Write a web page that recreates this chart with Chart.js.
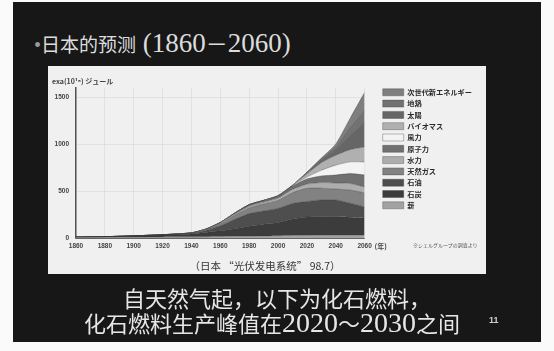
<!DOCTYPE html>
<html>
<head>
<meta charset="utf-8">
<script src="https://cdn.jsdelivr.net/npm/chart.js@4/dist/chart.umd.min.js"></script>
<style>
  html, body { margin: 0; padding: 0; background: #fafafa; width: 554px; height: 351px; overflow: hidden; }
  .slide { position: absolute; left: 13px; top: 2px; width: 528px; height: 340px; background: #171717; }
  .title { position: absolute; left: 34px; top: 26px; color: #dcdcdc; font-family: "Liberation Serif", serif; font-size: 27px; white-space: nowrap; }
  .title .dot { color: #9a9a9a; font-size: 20px; }
  .cjk { font-family: "Noto Sans CJK SC", sans-serif; }
  .panel { position: absolute; left: 48px; top: 66px; width: 438px; height: 208px; background: #f0f0f0; }
  #wrap { position: absolute; left: 48px; top: 66px; width: 438px; height: 192px; }
  .caption { position: absolute; left: 0; width: 530px; top: 258px; text-align: center; font-family: "Noto Sans CJK SC", sans-serif; font-size: 10.5px; color: #333; }
  .note { position: absolute; left: 413px; top: 241px; font-family: "Noto Sans CJK JP", sans-serif; font-size: 5px; color: #555; white-space: nowrap; }
  .line { position: absolute; left: 0; width: 554px; text-align: center; color: #e6e6e6; font-family: "Noto Sans CJK SC", sans-serif; font-size: 22px; white-space: nowrap; }
  .line .num { font-family: "Liberation Serif", serif; font-size: 28px; }
  .page { position: absolute; left: 489px; top: 315px; color: #cfcfcf; font-family: "Liberation Sans", sans-serif; font-weight: bold; font-size: 9px; }
</style>
</head>
<body>
<div class="slide"></div>
<div class="title"><span class="dot">•</span><span class="cjk" style="font-size:19px">日本的预测</span> (1860<span class="cjk" style="font-size:22px">－</span>2060)</div>
<div class="panel"></div>
<div id="wrap"><canvas id="energyChart"></canvas></div>
<div class="note">※シェルグループの調査より</div>
<div class="caption">（日本 “光伏发电系统” 98.7）</div>
<div class="line" style="top:281px">自天然气起，以下为化石燃料，</div>
<div class="line" style="top:306px;left:-5px">化石燃料生产峰值在<span class="num">2020</span>～<span class="num">2030</span>之间</div>
<div class="page">11</div>

<script>
// 年 (x)
var years = [1860, 1880, 1900, 1920, 1940, 1950, 1960, 1970, 1980, 1990, 2000, 2010, 2020, 2030, 2040, 2050, 2060];

// exa joule, bottom of the stack first
var wood    = [8, 9, 10, 11, 12, 14, 16, 18, 20, 22, 25, 27, 28, 30, 30, 30, 32];
var coal    = [2, 5, 12, 20, 30, 45, 60, 80, 105, 125, 140, 175, 195, 200, 195, 190, 181];
var oil     = [0, 0, 1, 3, 8, 22, 55, 100, 135, 140, 150, 165, 165, 175, 180, 150, 117];
var gas     = [0, 0, 0, 1, 3, 8, 22, 45, 60, 75, 85, 115, 140, 125, 115, 140, 149];
var hydro   = [0, 0, 0, 0, 2, 6, 10, 14, 18, 20, 25, 35, 45, 60, 65, 70, 64];
var nuclear = [0, 0, 0, 0, 0, 0, 2, 8, 17, 18, 22, 35, 55, 70, 85, 105, 127];
var wind    = [0, 0, 0, 0, 0, 0, 0, 0, 0, 0, 1, 3, 20, 60, 105, 125, 139];
var biomass = [0, 0, 0, 0, 0, 0, 0, 0, 0, 0, 2, 4, 35, 80, 105, 130, 159];
var solar   = [0, 0, 0, 0, 0, 0, 0, 0, 0, 0, 0, 1, 10, 30, 60, 150, 260];
var geo     = [0, 0, 0, 0, 0, 0, 0, 0, 0, 0, 0, 0, 4, 12, 30, 85, 130];
var nextGen = [0, 0, 0, 0, 0, 0, 0, 0, 0, 0, 0, 0, 3, 8, 30, 100, 192];

var seriesNames = ['薪', '石炭', '石油', '天然ガス', '水力', '原子力', '風力', 'バイオマス', '太陽', '地熱', '次世代新エネルギー'];
var seriesData = [wood, coal, oil, gas, hydro, nuclear, wind, biomass, solar, geo, nextGen];
var seriesColors = ['#a2a2a2', '#3c3c3c', '#4e4e4e', '#828282', '#adadad', '#707070', '#f3f3f3', '#b0b0b0', '#666666', '#727272', '#7f7f7f'];

var yTicks = [0, 500, 1000, 1500];

var datasets = seriesData.map(function(vals, i) {
    return {
        label: seriesNames[i],
        data: vals.map(function(v, j) { return { x: years[j], y: v }; }),
        backgroundColor: seriesColors[i],
        borderColor: 'rgba(50,50,50,0.55)',
        borderWidth: 0.6,
        pointRadius: 0,
        tension: 0.2,
        fill: i === 0 ? 'origin' : '-1'
    };
});

// "(年)" next to the last year label
var yearUnit = {
    id: 'yearUnit',
    afterDraw: function(chart) {
        var x = chart.scales.x;
        var c = chart.ctx;
        c.save();
        c.font = 'bold 7px "Noto Sans CJK JP", sans-serif';
        c.fillStyle = '#444';
        c.textBaseline = 'middle';
        c.fillText('(年)', x.getPixelForValue(2060) + 10, chart.chartArea.bottom + 8);
        c.restore();
    }
};

// leave a gap between the plot and the legend
var legendGap = {
    id: 'legendGap',
    afterLayout: function(chart) {
        chart.legend.left += 14;
        chart.legend.right += 14;
    }
};

var ctx = document.getElementById('energyChart').getContext('2d');
new Chart(ctx, {
    type: 'line',
    data: { datasets: datasets },
    plugins: [yearUnit, legendGap],
    options: {
        responsive: true,
        maintainAspectRatio: false,
        animation: false,
        layout: { padding: { left: 4, right: 18, top: 0, bottom: 0 } },
        plugins: {
            title: {
                display: true,
                text: 'exa(10¹⁸) ジュール',
                align: 'start',
                color: '#444',
                font: { family: '"Noto Sans CJK JP", sans-serif', size: 7, lineHeight: 1.2 },
                padding: { top: 11, bottom: 2.2 }
            },
            legend: {
                position: 'right',
                align: 'start',
                reverse: true,
                title: { display: true, text: '', font: { size: 8, lineHeight: 1 }, padding: { top: 10.6, bottom: 0 } },
                labels: {
                    boxWidth: 21,
                    boxHeight: 7,
                    padding: 4.1,
                    color: '#2a2a2a',
                    font: { family: '"Noto Sans CJK JP", sans-serif', size: 7.2, weight: 'bold', lineHeight: 1.25 }
                }
            },
            tooltip: { enabled: false }
        },
        scales: {
            x: {
                type: 'linear',
                min: 1860,
                max: 2060,
                afterFit: function(s) { s.height = 20; },
                grid: { color: '#d6d6d6', lineWidth: 0.6, drawTicks: false },
                border: { color: '#666', width: 1 },
                ticks: {
                    stepSize: 20,
                    padding: 4,
                    color: '#444',
                    font: { family: '"Liberation Sans", sans-serif', size: 6.5, weight: 'bold' },
                    callback: function(v) { return String(v); }
                }
            },
            y: {
                stacked: true,
                min: 0,
                max: 1600,
                afterFit: function(s) { s.width = 24; },
                afterBuildTicks: function(s) { s.ticks = yTicks.map(function(v) { return { value: v }; }); },
                grid: { color: '#d6d6d6', lineWidth: 0.6, drawTicks: false },
                border: { color: '#555', width: 1.5 },
                ticks: {
                    padding: 7,
                    color: '#444',
                    font: { family: '"Liberation Sans", sans-serif', size: 6.5, weight: 'bold' },
                    callback: function(v) { return String(v); }
                }
            }
        }
    }
});
</script>
</body>
</html>
